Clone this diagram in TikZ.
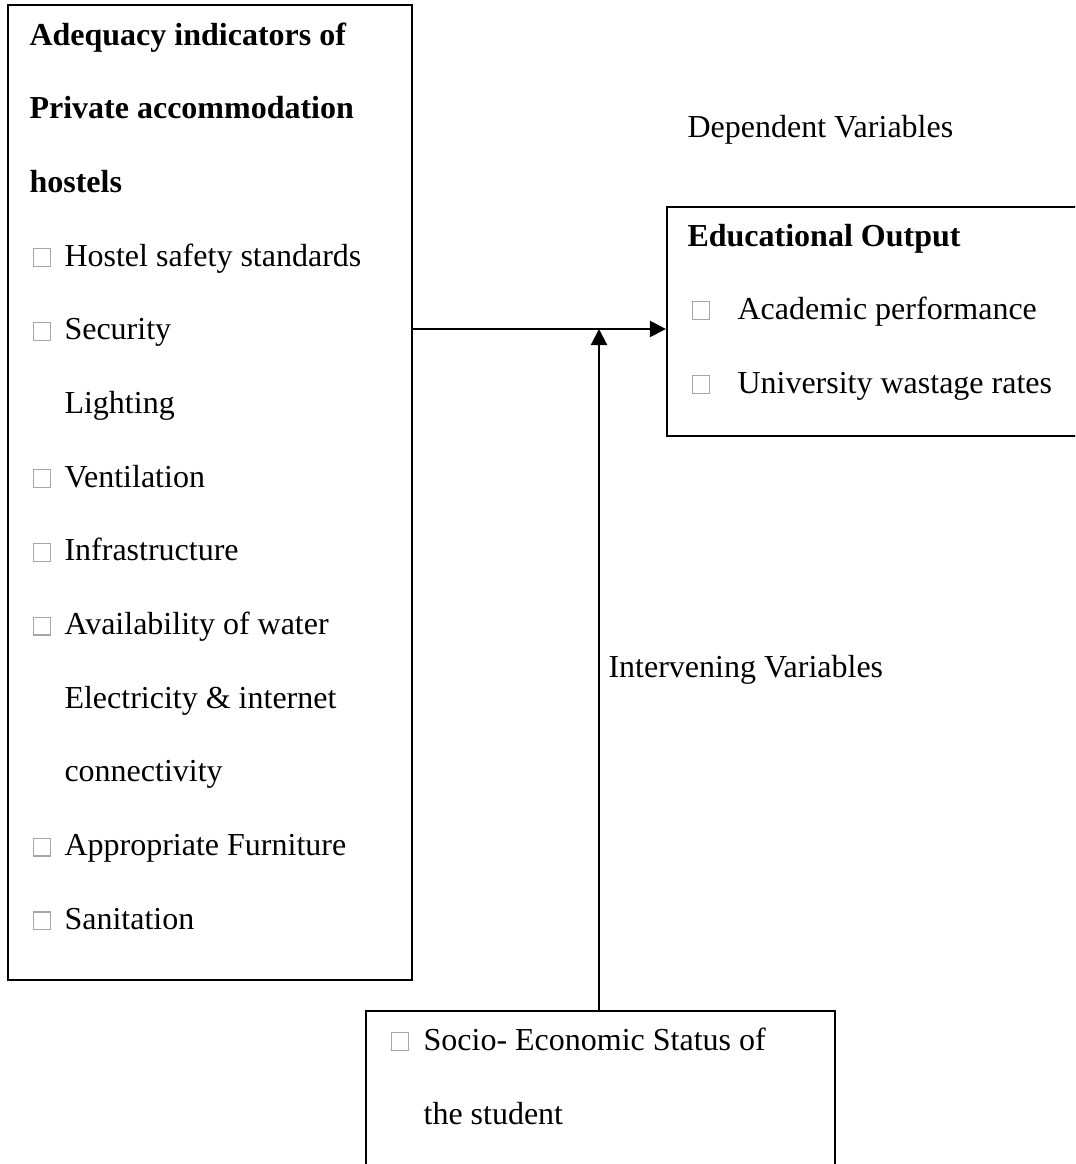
\documentclass[tikz,border=0pt]{standalone}
\usepackage{fontspec}
\setmainfont{Liberation Serif}
\usetikzlibrary{arrows.meta,positioning,fit}
\newcommand{\sqbox}{\textcolor{gray!70}{\fboxsep=0pt\fboxrule=0.45pt\fbox{\rule{0pt}{6.2pt}\rule{6.2pt}{0pt}}}}
\newcommand{\itm}[1][12pt]{\makebox[#1][l]{\sqbox}}

\begin{document}
\begin{tikzpicture}[x=0.375pt, y=-0.375pt,
  box/.style={draw, line width=0.8pt, inner sep=0pt},
  txt/.style={anchor=base west, inner sep=0pt, font=\fontsize{12}{14}\selectfont},
  hd/.style={txt, font=\fontsize{12}{14}\selectfont\bfseries},
  arr/.style={-{Triangle[length=6pt, width=6pt]}, line width=0.8pt}]
\useasboundingbox (0,0) rectangle (1075,1164);
\clip (0,0) rectangle (1075,1164);
% Independent variables
\coordinate (ind-nw) at (8,5);
\coordinate (ind-se) at (412,980);
\node[box, fit=(ind-nw)(ind-se)] (ind) {};
\foreach \t [count=\i] in {Adequacy indicators of, Private accommodation, hostels}
  \node[hd] (ind-h\i) at (29,{45+(\i-1)*73.67}) {\t};
\foreach \n/\t in {4/\itm Hostel safety standards, 5/\itm Security,
    6/\hspace*{12pt}Lighting, 7/\itm Ventilation, 8/\itm Infrastructure,
    9/\itm Availability of water, 10/\hspace*{12pt}Electricity \& internet,
    11/\hspace*{12pt}connectivity, 12/\itm Appropriate Furniture, 13/\itm Sanitation}
  \node[txt] (ind-\n) at (32,{45+(\n-1)*73.67}) {\t};
% Dependent variables
\node[txt] (dep) at (687,137) {Dependent Variables};
\coordinate (out-nw) at (667,207);
\coordinate (out-se) at (1095,436);
\node[box, fit=(out-nw)(out-se)] (out) {};
\node[hd] (out-h) at (687,246) {Educational Output};
\node[txt] (out-1) at (691,319) {\itm[17.25pt]Academic performance};
\node[txt] (out-2) at (691,393) {\itm[17.25pt]University wastage rates};
% Intervening variables
\node[txt] (int) at (608,677) {Intervening Variables};
\coordinate (ses-nw) at (366,1011);
\coordinate (ses-se) at (835,1190);
\node[box, fit=(ses-nw)(ses-se)] (ses) {};
\node[txt] (ses-1) at (390,1050) {\itm[12.4pt]Socio- Economic Status of};
\node[txt] (ses-2) at (390,1124) {\hspace*{12.4pt}the student};
% Links
\coordinate (jn) at (599,329);
\draw[arr] (ind.east |- jn) -- (out.west |- jn);
\draw[arr] (ses.north -| jn) -- (jn);
\end{tikzpicture}
\end{document}
